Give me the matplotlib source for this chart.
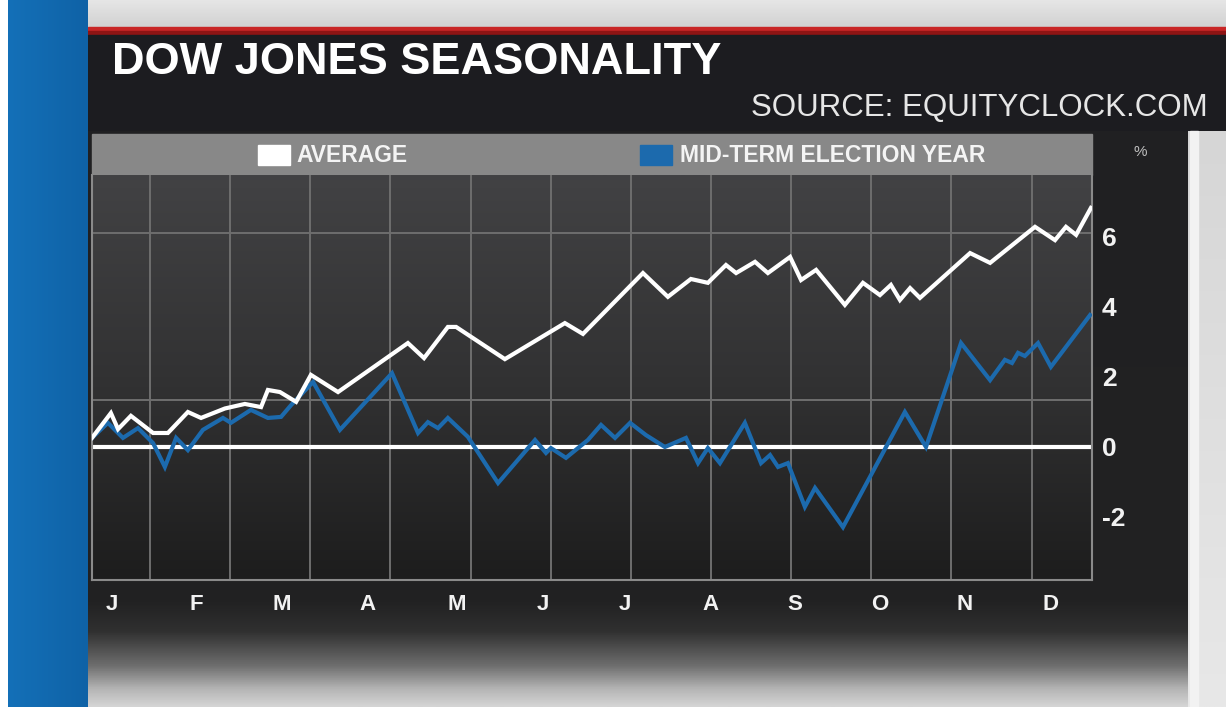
import matplotlib
matplotlib.use("Agg")
import matplotlib.pyplot as plt
import numpy as np
from matplotlib.colors import LinearSegmentedColormap
from matplotlib.patches import Rectangle

# data: day of year vs cumulative % change
avg_days = [0, 6.9, 9.5, 14.2, 22.3, 27.7, 35, 39.8, 48.5, 55.8, 61.7, 64.2, 68.6, 74.5,
            79.9, 89.8, 115.3, 121.2, 129.9, 132.9, 150.7, 172.6, 179.2, 201.1, 210.2,
            218.6, 224.8, 231.4, 235.1, 242, 246.7, 254.8, 258.8, 264.3, 274.8, 281.4,
            287.6, 291.6, 294.9, 298.6, 302.2, 320.5, 327.8, 344.2, 351.5, 355.5, 359.2, 364.6]
avg_vals = [0.26, 0.97, 0.51, 0.89, 0.40, 0.40, 1.00, 0.83, 1.10, 1.23, 1.14, 1.63, 1.57, 1.29,
            2.06, 1.57, 2.97, 2.54, 3.43, 3.43, 2.51, 3.54, 3.23, 4.97, 4.29,
            4.80, 4.69, 5.20, 4.97, 5.29, 4.97, 5.43, 4.77, 5.06, 4.06, 4.69,
            4.34, 4.63, 4.20, 4.54, 4.26, 5.54, 5.26, 6.29, 5.91, 6.29, 6.06, 6.83]

mid_days = [0, 5.8, 11.3, 16.8, 22.3, 26.6, 30.7, 35, 40.5, 47.8, 50.7, 58, 64.2, 69, 72.7,
            80.7, 90.5, 109.5, 119, 122.6, 126.3, 129.9, 137.2, 148.2, 161.7, 165.7, 167.5,
            173, 181, 185.8, 190.9, 196.4, 202.2, 209.1, 216.8, 221.2, 224.8, 229.2, 238.3,
            244.2, 247.5, 250.4, 254, 260.2, 263.9, 274.1, 296.7, 304.4, 317.2, 327.8, 333.2,
            335.8, 338, 340.5, 345.3, 350, 364.3]
mid_vals = [0.26, 0.69, 0.26, 0.54, 0.11, -0.57, 0.26, -0.09, 0.49, 0.83, 0.69, 1.06, 0.83, 0.86, 1.20,
            1.86, 0.49, 2.11, 0.40, 0.71, 0.54, 0.83, 0.29, -1.03, 0.20, -0.17, -0.03,
            -0.31, 0.20, 0.63, 0.26, 0.69, 0.34, 0.00, 0.26, -0.46, -0.03, -0.46, 0.69,
            -0.46, -0.23, -0.57, -0.46, -1.71, -1.17, -2.29, 1.00, 0.00, 2.97, 1.91, 2.49,
            2.40, 2.69, 2.60, 2.97, 2.29, 3.77]

months = ["J", "F", "M", "A", "M", "J", "J", "A", "S", "O", "N", "D"]
month_pos = [7.3, 38, 69.4, 100.7, 133.2, 164.6, 194.5, 225.6, 256.6, 287.6, 318.6, 349.7]
yticks = [6, 4, 2, 0, -2]

W, H = 1226, 707
fig = plt.figure(figsize=(W / 100, H / 100), dpi=100)
fig.patch.set_facecolor("white")

# background drawing in pixel coords
bg = fig.add_axes([0, 0, 1, 1])
bg.set_xlim(0, W)
bg.set_ylim(H, 0)
bg.axis("off")

grad = np.linspace(0, 1, 256).reshape(-1, 1)
top_cmap = LinearSegmentedColormap.from_list("top", ["#e6e6e6", "#cfcfcf"])
bg.imshow(grad, extent=(88, W, 30, 0), cmap=top_cmap, aspect="auto", zorder=0)
bg.add_patch(Rectangle((88, 27), W - 88, 4, color="#c82626", zorder=1))
bg.add_patch(Rectangle((88, 31), W - 88, 4, color="#8e1414", zorder=1))
bg.add_patch(Rectangle((88, 35), W - 88, 96, color="#1c1c20", zorder=1))

# panel: dark, fading to light grey at the bottom (y 131 -> 707)
panel_cmap = LinearSegmentedColormap.from_list(
    "panel", [(0, "#202022"), (0.82, "#222223"), (0.87, "#303030"),
              (0.93, "#6e6e6e"), (0.97, "#b4b4b4"), (1, "#d4d4d4")])
bg.imshow(grad, extent=(88, 1188, H, 131), cmap=panel_cmap, aspect="auto", zorder=1)

side_cmap = LinearSegmentedColormap.from_list("side", ["#d6d6d6", "#e8e8e8"])
bg.imshow(grad, extent=(1188, W, H, 131), cmap=side_cmap, aspect="auto", zorder=1)
bg.add_patch(Rectangle((1190, 131), 8, H - 131, color="#f2f2f2", zorder=1))

blue_cmap = LinearSegmentedColormap.from_list("blue", ["#1470b8", "#0f62a6"])
bg.imshow(grad.T, extent=(8, 88, H, 0), cmap=blue_cmap, aspect="auto", zorder=1)

# legend band
bg.add_patch(Rectangle((92, 134), 1000, 41, color="#888888", zorder=2))
bg.add_patch(Rectangle((258, 145), 32, 20, color="white", zorder=3))
bg.text(296, 156, "AVERAGE", color="#f4f4f4", fontsize=16.5, fontweight="bold",
        family="Liberation Sans", va="center", ha="left", zorder=3)
bg.add_patch(Rectangle((640, 145), 32, 20, color="#1c6aad", zorder=3))
bg.text(680, 156, "MID-TERM ELECTION YEAR", color="#f4f4f4", fontsize=16.5, fontweight="bold",
        family="Liberation Sans", va="center", ha="left", zorder=3)
bg.text(1140, 152, "%", color="#bdbdbd", fontsize=11, family="Liberation Sans",
        va="center", ha="center", zorder=3)

bg.text(112, 62, "DOW JONES SEASONALITY", color="white", fontsize=32.5, fontweight="bold",
        family="Liberation Sans", va="center", ha="left", zorder=3)
bg.text(1208, 108, "SOURCE: EQUITYCLOCK.COM", color="#e6e6e6", fontsize=22.5,
        family="Liberation Sans", va="center", ha="right", zorder=3)

# chart
ax = fig.add_axes([92 / W, (H - 580) / H, 1000 / W, 405 / H])
ymin, ymax = -3.8, 7.771
plot_cmap = LinearSegmentedColormap.from_list("plot", ["#424244", "#323233", "#1d1d1d"])
ax.imshow(grad, extent=(0, 365, ymin, ymax), cmap=plot_cmap, aspect="auto", zorder=0)
ax.set_xlim(0, 365)
ax.set_ylim(ymin, ymax)

for d in np.arange(21.2, 365, 29.25):
    ax.axvline(d, color="#6e6e6e", lw=1.4, zorder=1)
for lvl in [6.1, 1.35]:
    ax.axhline(lvl, color="#6e6e6e", lw=1.4, zorder=1)
ax.axhline(0, color="white", lw=3, zorder=2)

ax.plot(mid_days, mid_vals, color="#1c6aad", lw=3, zorder=3, solid_joinstyle="miter")
ax.plot(avg_days, avg_vals, color="white", lw=3, zorder=4, solid_joinstyle="miter")

ax.set_xticks(month_pos)
ax.set_xticklabels(months)
ax.set_yticks(yticks)
ax.set_yticklabels([str(v) for v in yticks])
ax.yaxis.tick_right()
ax.tick_params(axis="both", length=0, colors="#f2f2f2")
ax.tick_params(axis="x", pad=10)
ax.tick_params(axis="y", pad=7)
for lab in ax.get_xticklabels() + ax.get_yticklabels():
    lab.set_fontweight("bold")
    lab.set_family("Liberation Sans")
for lab in ax.get_xticklabels():
    lab.set_fontsize(16)
for lab in ax.get_yticklabels():
    lab.set_fontsize(19)

for side in ["left", "bottom", "right"]:
    ax.spines[side].set_color("#8a8a8a")
    ax.spines[side].set_linewidth(1.5)
ax.spines["top"].set_visible(False)

fig.savefig("out.png", dpi=100)
